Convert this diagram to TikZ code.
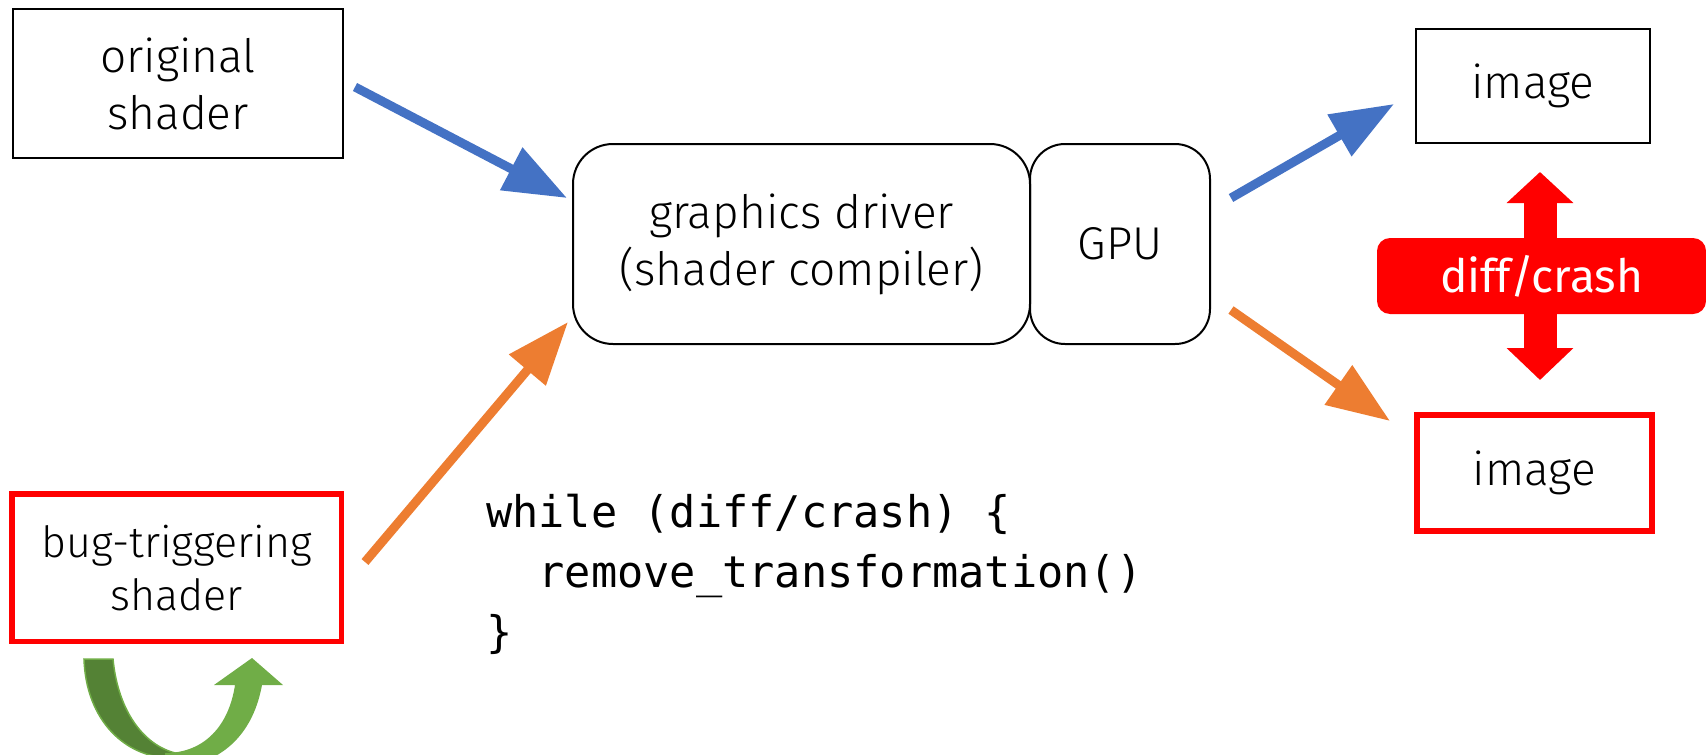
\documentclass[tikz,border=0pt]{standalone}
\usepackage{fontspec}
\setmainfont{Fira Sans}[UprightFont={* Light}]
\newfontfamily\regfont{Fira Sans}
\newfontfamily\codefont{DejaVu Sans Mono}
\usetikzlibrary{arrows.meta}
\definecolor{arrowblue}{HTML}{4472C4}
\definecolor{arroworange}{HTML}{ED7D31}
\definecolor{leafgreen}{HTML}{70AD47}
\definecolor{darkleaf}{HTML}{548235}
\definecolor{alarmred}{HTML}{FF0000}
\tikzset{
  plainbox/.style={draw=black, line width=2pt, inner sep=0pt, align=center,
    font=\fontsize{46}{57}\selectfont},
  redbox/.style={plainbox, draw=alarmred, line width=5.5pt},
  roundbox/.style={plainbox, rounded corners=40pt},
  flowarrow/.style={line width=9pt, -{Triangle[length=63pt,width=46pt]}},
}
\begin{document}
\begin{tikzpicture}[x=1pt,y=-1pt]
\useasboundingbox (0,0) rectangle (1706,755);

% input shaders
\node[plainbox, minimum width=330pt, minimum height=149pt] (orig) at (178,83.5) {original\\shader};
\node[redbox, minimum width=329.5pt, minimum height=147.5pt,
      font=\fontsize{43}{53}\selectfont] (bug) at (176.75,567.75) {bug-triggering\\shader};

% driver and GPU
\node[roundbox, minimum width=457pt, minimum height=200pt] (driver) at (801.5,244) {graphics driver\\(shader compiler)};
\node[roundbox, rounded corners=35pt, minimum width=180pt, minimum height=200pt] (gpu) at (1120,244) {GPU};

% output images
\node[plainbox, minimum width=234pt, minimum height=114pt] (img1) at (1533,86) {image};
\node[redbox, minimum width=235pt, minimum height=116pt] (img2) at (1534.5,473) {image};

% arrow end points
\coordinate (o1) at (355,87);   \coordinate (o2) at (567,198);
\coordinate (b1) at (365,562);  \coordinate (b2) at (568,322);
\coordinate (g1) at (1231,198); \coordinate (g2) at (1394,104);
\coordinate (r1) at (1231,310); \coordinate (r2) at (1390,421);
\coordinate (dtop) at (1540,172); \coordinate (dbot) at (1540,380);

\draw[flowarrow, arrowblue] (o1) -- (o2);
\draw[flowarrow, arroworange] (b1) -- (b2);
\draw[flowarrow, arrowblue] (g1) -- (g2);
\draw[flowarrow, arroworange] (r1) -- (r2);

% comparison marker
\draw[alarmred, line width=33pt,
      {Triangle[length=31pt,width=65pt]}-{Triangle[length=32pt,width=65pt]}] (dtop) -- (dbot);
\node[fill=alarmred, rounded corners=13pt, minimum width=329pt, minimum height=76pt,
      inner sep=0pt, text=white, font=\regfont\fontsize{46}{57}\selectfont] (diff) at (1541.5,276) {diff/crash};

% reduction loop
\node[anchor=north west, align=left, inner sep=0pt,
      font=\codefont\fontsize{43.6}{60}\selectfont] (code) at (486,494)
  {while (diff/crash) \{\\\phantom{xx}remove\_transformation()\\\}};

% U-turn arrow under the bug-triggering shader
\filldraw[fill=darkleaf, draw=leafgreen, line width=1.5pt]
  (84,659) -- (113,659) .. controls (118,712) and (145,748) .. (180,754)
  -- (172,758) .. controls (125,758) and (86,720) .. (84,659) -- cycle;
\fill[leafgreen]
  (165,753) .. controls (205,753) and (229,725) .. (235,685)
  -- (214,685) -- (252,658) -- (283,685) -- (262,685)
  .. controls (252,740) and (215,768) .. (165,768) -- cycle;
\end{tikzpicture}
\end{document}
